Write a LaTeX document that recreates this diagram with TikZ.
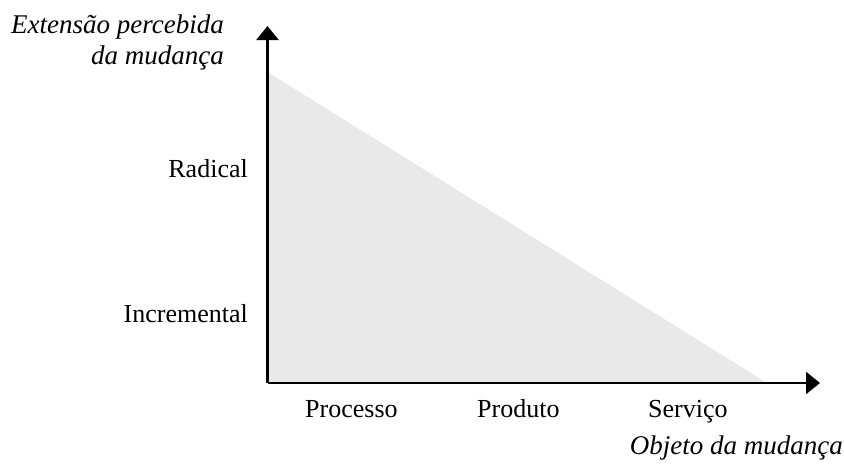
\documentclass[tikz,border=0pt]{standalone}
\usepackage{fontspec}
\setmainfont{Liberation Serif}
\usetikzlibrary{arrows.meta}
\definecolor{fillgray}{HTML}{E9E9E9}
\begin{document}
\begin{tikzpicture}[x=1pt,y=-1pt,
  lbl/.style={inner sep=0pt,font=\fontsize{26}{31}\selectfont},
  ilbl/.style={inner sep=0pt,font=\fontsize{27}{32}\selectfont\itshape},
  axis/.style={line width=2.3pt,-{Triangle[length=14pt,width=22pt]}}]
\useasboundingbox (0,0) rectangle (844,471);
\coordinate (O) at (267.5,383);
\coordinate (Ytip) at (267.5,26);
\coordinate (Xtip) at (820,383);
\coordinate (T) at (267.5,72);
\coordinate (R) at (767,383);
\fill[fillgray] (O) -- (T) -- (R) -- cycle;
\draw[axis] (O) -- (Ytip);
\draw[axis] (O) -- (Xtip);
\node[ilbl,anchor=base east] (yl1) at (224,33) {Extensão percebida};
\node[ilbl,anchor=base east] (yl2) at (224,64) {da mudança};
\node[lbl,anchor=base east] (rad) at (248,177) {Radical};
\node[lbl,anchor=base east] (inc) at (248,322) {Incremental};
\node[lbl,anchor=base west] (proc) at (305,417) {Processo};
\node[lbl,anchor=base west] (prod) at (477,417) {Produto};
\node[lbl,anchor=base west] (serv) at (648,417) {Serviço};
\node[ilbl,anchor=base east] (xl) at (843,454) {Objeto da mudança};
\end{tikzpicture}
\end{document}
